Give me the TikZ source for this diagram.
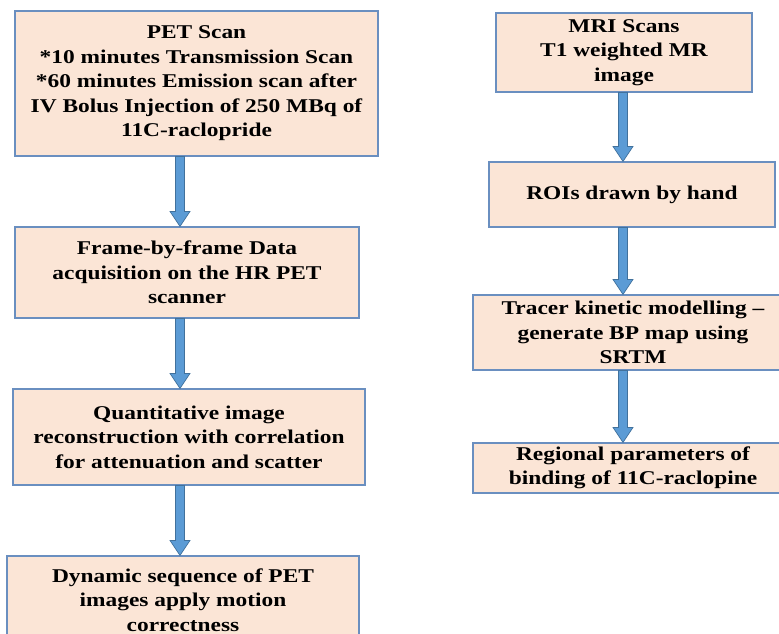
\documentclass[tikz,border=0pt]{standalone}
\usepackage{fontspec}
\setmainfont{Liberation Serif}[FakeStretch=1.2]
\usetikzlibrary{calc}
\definecolor{boxfill}{HTML}{FBE5D6}
\definecolor{boxdraw}{HTML}{6A8FC0}
\definecolor{arrowfill}{HTML}{5B9BD5}
\definecolor{arrowdraw}{HTML}{41719C}
\begin{document}
\begin{tikzpicture}[x=1pt,y=-1pt,
  box/.style={draw=boxdraw, fill=boxfill, line width=1.1pt, align=center,
    inner sep=0pt, font=\fontsize{19.5}{24.5}\selectfont\bfseries},
  blockarrow/.style={fill=arrowfill, draw=arrowdraw, line width=0.7pt,
    to path={let \p1=(\tikztostart), \p2=(\tikztotarget) in
      (\x1-4.5pt,\y1) -- (\x1+4.5pt,\y1) -- (\x1+4.5pt,\y2+15pt)
      -- (\x1+10pt,\y2+15pt) -- (\x2,\y2) -- (\x1-10pt,\y2+15pt)
      -- (\x1-4.5pt,\y2+15pt) -- cycle}}]
\useasboundingbox (0,0) rectangle (779,634);
\clip (0,0) rectangle (779,634);
\coordinate (lx) at (180,0);
\coordinate (rx) at (623,0);
% left column
\node[box, minimum width=363pt, minimum height=145pt] (pet) at (196.5,83.5)
  {PET Scan\\*10 minutes Transmission Scan\\*60 minutes Emission scan after\\IV Bolus Injection of 250 MBq of\\11C-raclopride};
\node[box, minimum width=344pt, minimum height=91pt] (acq) at (187,272.5)
  {Frame-by-frame  Data\\acquisition on the HR  PET\\scanner};
\node[box, minimum width=352pt, minimum height=96pt] (rec) at (189,437)
  {Quantitative  image\\reconstruction with correlation\\for attenuation  and scatter};
\node[box, minimum width=352pt, minimum height=88pt] (dyn) at (183,600)
  {Dynamic sequence of PET\\images apply motion\\correctness};
% right column
\node[box, minimum width=256pt, minimum height=79pt] (mri) at (624,52.5)
  {MRI Scans\\T1 weighted MR\\image};
\node[box, minimum width=286pt, minimum height=65pt] (roi) at (632,194.5)
  {ROIs drawn  by hand};
\node[box, minimum width=320pt, minimum height=75pt] (trk) at (633,332.5)
  {Tracer kinetic  modelling --\\generate BP map using\\SRTM};
\node[box, minimum width=320pt, minimum height=50pt] (reg) at (633,468)
  {Regional parameters of\\binding of 11C-raclopine};
% arrows
\draw[blockarrow] (pet.south -| lx) to (acq.north -| lx);
\draw[blockarrow] (acq.south -| lx) to (rec.north -| lx);
\draw[blockarrow] (rec.south -| lx) to (dyn.north -| lx);
\draw[blockarrow] (mri.south -| rx) to (roi.north -| rx);
\draw[blockarrow] (roi.south -| rx) to (trk.north -| rx);
\draw[blockarrow] (trk.south -| rx) to (reg.north -| rx);
\end{tikzpicture}
\end{document}
